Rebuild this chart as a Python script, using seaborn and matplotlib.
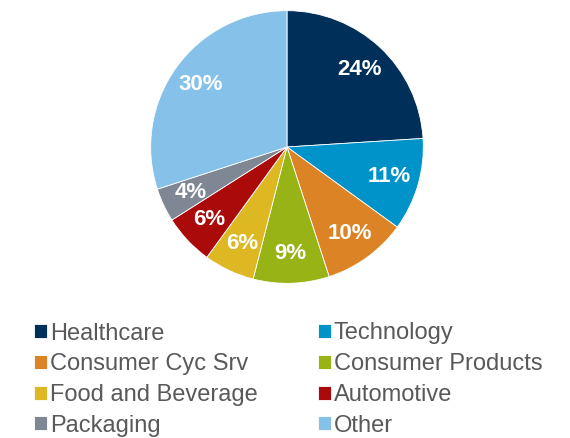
import matplotlib
matplotlib.use("Agg")
import matplotlib.pyplot as plt
import seaborn as sns

categories = ["Healthcare", "Technology", "Consumer Cyc Srv", "Consumer Products",
              "Food and Beverage", "Automotive", "Packaging", "Other"]
shares = [24, 11, 10, 9, 6, 6, 4, 30]
colors = ["#00305A", "#0093C9", "#DC8325", "#98B316",
          "#DDB823", "#AA0A0A", "#7F8795", "#85C1E9"]

sns.set_theme(style="white")
plt.rcParams['font.family'] = ['Liberation Sans', 'DejaVu Sans']

fig = plt.figure(figsize=(5.70, 4.38), dpi=100)
ax = fig.add_axes([150/570, 1 - 284/438, 274/570, 274/438])
wedges, texts, autotexts = ax.pie(
    shares, colors=sns.color_palette(colors), startangle=90, counterclock=False,
    autopct=lambda p: f"{p:.0f}%", pctdistance=0.78,
    wedgeprops=dict(edgecolor="white", linewidth=0.6),
    textprops=dict(color="white", fontsize=16, fontweight="bold"))
ax.set_xlim(-1.005, 1.005)
ax.set_ylim(-1.005, 1.005)
ax.set_aspect("equal")

order = [0, 2, 4, 6, 1, 3, 5, 7]
leg = fig.legend([wedges[i] for i in order], [categories[i] for i in order],
                 ncol=2, loc="upper left", bbox_to_anchor=(34/570, 1 - 322.5/438),
                 frameon=False, fontsize=17, handlelength=0.55, handleheight=0.55,
                 handletextpad=0.12, labelspacing=0.37, columnspacing=2.55,
                 borderaxespad=0, borderpad=0)
for t in leg.get_texts():
    t.set_color("#595959")

fig.savefig("out.png", dpi=100)
